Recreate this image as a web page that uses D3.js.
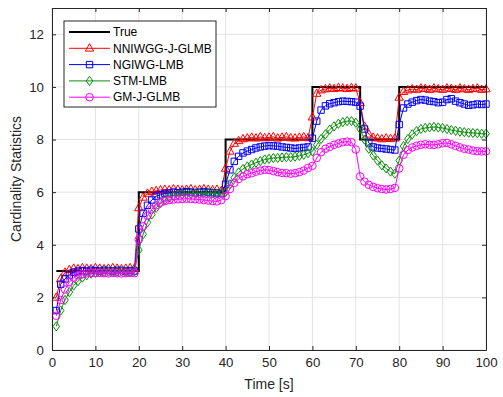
<!DOCTYPE html>
<html>
<head>
<meta charset="utf-8">
<script src="https://cdn.jsdelivr.net/npm/d3@7"></script>
<style>
  body { margin: 0; background: #fff; }
  svg { display: block; font-family: Arial, "Liberation Sans", Helvetica, sans-serif; }
</style>
</head>
<body>
<svg id="chart" width="503" height="397"></svg>
<script>
// Time index (s) of each filter step
const timeSteps = d3.range(1, 101);

// Ground-truth number of targets
const trueCount = [
  3,3,3,3,3,3,3,3,3,3,3,3,3,3,3,3,3,3,3,
  6,6,6,6,6,6,6,6,6,6,6,6,6,6,6,6,6,6,6,6,
  8,8,8,8,8,8,8,8,8,8,8,8,8,8,8,8,8,8,8,8,
  10,10,10,10,10,10,10,10,10,10,10,
  8,8,8,8,8,8,8,8,8,
  10,10,10,10,10,10,10,10,10,10,10,10,10,10,10,10,10,10,10,10,10
];

// Estimated cardinality, NNIWGG-J-GLMB
const nniwggJGlmb = [
  2.0,2.7,2.95,3.05,3.1,3.08,3.12,3.1,3.08,3.12,3.1,3.08,3.1,3.12,3.1,3.08,3.1,3.12,3.1,
  5.4,5.8,5.95,6.02,6.05,6.08,6.1,6.08,6.12,6.1,6.08,6.1,6.12,6.08,6.1,6.12,6.1,6.08,6.1,6.05,
  6.9,7.55,7.85,7.95,8.02,8.05,8.08,8.05,8.1,8.06,8.08,8.1,8.05,8.08,8.1,8.06,8.05,8.08,8.1,8.06,
  8.85,9.75,9.88,9.92,9.95,9.93,9.97,9.95,9.93,9.97,9.95,
  9.4,8.5,8.2,8.08,8.05,8.02,8.05,8.03,8.05,
  9.6,9.82,9.88,9.92,9.9,9.95,9.93,9.9,9.95,9.92,9.9,9.95,9.93,9.9,9.95,9.92,9.9,9.93,9.95,9.9,9.92
];

// Estimated cardinality, NGIWG-LMB
const ngiwgLmb = [
  1.5,2.5,2.7,2.85,2.95,3.0,3.02,3.0,3.03,3.02,3.0,3.03,3.02,3.0,3.03,3.02,3.0,3.02,3.0,
  4.6,5.2,5.5,5.7,5.85,5.9,5.95,5.97,6.0,5.98,6.0,6.02,6.0,5.98,6.0,6.02,6.0,5.98,5.97,5.95,
  6.3,6.85,7.17,7.36,7.49,7.56,7.62,7.68,7.72,7.75,7.77,7.76,7.75,7.72,7.7,7.68,7.66,7.68,7.7,7.72,
  8.05,8.7,9.12,9.28,9.36,9.4,9.44,9.46,9.45,9.44,9.42,
  9.27,8.4,7.87,7.72,7.68,7.66,7.64,7.62,7.6,
  8.57,9.2,9.35,9.42,9.48,9.52,9.5,9.46,9.44,9.4,9.42,9.52,9.55,9.46,9.4,9.35,9.3,9.32,9.35,9.33,9.35
];

// Estimated cardinality, STM-LMB
const stmLmb = [
  0.9,1.5,1.9,2.2,2.45,2.62,2.75,2.84,2.9,2.94,2.96,2.97,2.98,2.97,2.98,2.99,2.98,2.97,2.98,
  3.8,4.4,4.85,5.15,5.4,5.58,5.7,5.8,5.86,5.9,5.92,5.94,5.95,5.96,5.95,5.96,5.97,5.96,5.95,5.94,
  6.0,6.3,6.55,6.75,6.88,6.98,7.05,7.12,7.18,7.24,7.27,7.3,7.3,7.32,7.33,7.33,7.35,7.38,7.42,7.48,
  7.55,7.8,8.02,8.2,8.38,8.5,8.6,8.66,8.7,8.7,8.64,
  8.4,8.0,7.65,7.4,7.2,7.02,6.9,6.78,6.7,
  7.2,7.75,8.02,8.2,8.32,8.4,8.44,8.46,8.48,8.46,8.44,8.4,8.36,8.33,8.3,8.28,8.26,8.25,8.24,8.22,8.22
];

// Estimated cardinality, GM-J-GLMB
const gmJGlmb = [
  1.3,1.9,2.3,2.58,2.75,2.84,2.88,2.92,2.93,2.92,2.93,2.92,2.91,2.93,2.92,2.91,2.92,2.93,2.92,
  4.2,4.7,5.1,5.35,5.5,5.6,5.66,5.7,5.72,5.73,5.74,5.75,5.74,5.73,5.72,5.7,5.68,5.66,5.65,5.7,
  5.85,6.12,6.35,6.5,6.6,6.68,6.72,6.78,6.82,6.85,6.84,6.8,6.76,6.73,6.72,6.7,6.72,6.76,6.82,6.92,
  7.0,7.3,7.52,7.65,7.72,7.8,7.85,7.9,7.92,7.9,7.62,
  6.6,6.4,6.28,6.2,6.15,6.12,6.1,6.12,6.16,
  6.9,7.42,7.6,7.7,7.76,7.8,7.82,7.8,7.8,7.82,7.86,7.87,7.82,7.76,7.7,7.65,7.62,7.58,7.56,7.55,7.55
];

const xTicks = [0, 10, 20, 30, 40, 50, 60, 70, 80, 90, 100];
const yTicks = [0, 2, 4, 6, 8, 10, 12];

const W = 503, H = 397;
const margin = { top: 8, right: 17, bottom: 47, left: 52 };
const svg = d3.select("#chart");

const x = d3.scaleLinear().domain([0, 100]).range([margin.left, W - margin.right]);
const y = d3.scaleLinear().domain([0, 13]).range([H - margin.bottom, margin.top]);

const axisColor = "#262626";

// grid
const grid = svg.append("g");
grid.selectAll("line.gx").data(xTicks).join("line")
  .attr("x1", d => x(d)).attr("x2", d => x(d))
  .attr("y1", y(0)).attr("y2", y(13))
  .attr("stroke", "#e3e3e3").attr("stroke-width", 1);
grid.selectAll("line.gy").data(yTicks).join("line")
  .attr("x1", x(0)).attr("x2", x(100))
  .attr("y1", d => y(d)).attr("y2", d => y(d))
  .attr("stroke", "#e3e3e3").attr("stroke-width", 1);

// series
const series = [
  { name: "NNIWGG-J-GLMB", values: nniwggJGlmb, color: "#ff0000", marker: "triangle" },
  { name: "NGIWG-LMB", values: ngiwgLmb, color: "#0000ff", marker: "square" },
  { name: "STM-LMB", values: stmLmb, color: "#0a8f0a", marker: "diamond" },
  { name: "GM-J-GLMB", values: gmJGlmb, color: "#ff00ff", marker: "circle" }
];

const markerPath = {
  triangle: "M0,-4.6L4.2,2.8L-4.2,2.8Z",
  square: "M-3.2,-3.2H3.2V3.2H-3.2Z",
  diamond: "M0,-4.6L3.3,0L0,4.6L-3.3,0Z"
};
(function () {
  const p = d3.path();
  p.arc(0, 0, 3.8, 0, 2 * Math.PI);
  markerPath.circle = p.toString();
})();

const plot = svg.append("g");

// truth as a step line
const trueLine = d3.line()
  .x((d, i) => x(timeSteps[i]))
  .y(d => y(d))
  .curve(d3.curveStepAfter);
plot.append("path")
  .datum(trueCount)
  .attr("d", trueLine)
  .attr("fill", "none")
  .attr("stroke", "#000")
  .attr("stroke-width", 2);

const line = d3.line()
  .x((d, i) => x(timeSteps[i]))
  .y(d => y(d));

series.forEach(s => {
  const g = plot.append("g");
  g.append("path")
    .datum(s.values)
    .attr("d", line)
    .attr("fill", "none")
    .attr("stroke", s.color)
    .attr("stroke-width", 1);
  g.selectAll("path.m").data(s.values).join("path")
    .attr("class", "m")
    .attr("transform", (d, i) => `translate(${x(timeSteps[i])},${y(d)})`)
    .attr("d", markerPath[s.marker])
    .attr("fill", "none")
    .attr("stroke", s.color)
    .attr("stroke-width", 1);
});

// axes box with inward ticks
const xAxisB = d3.axisBottom(x).tickValues(xTicks).tickSizeInner(-4).tickSizeOuter(0).tickPadding(8);
const yAxisL = d3.axisLeft(y).tickValues(yTicks).tickSizeInner(-4).tickSizeOuter(0).tickPadding(8);
const xAxisT = d3.axisTop(x).tickValues(xTicks).tickSizeInner(-4).tickSizeOuter(0).tickFormat("");
const yAxisR = d3.axisRight(y).tickValues(yTicks).tickSizeInner(-4).tickSizeOuter(0).tickFormat("");

function styleAxis(g) {
  g.select(".domain").attr("stroke", axisColor);
  g.selectAll(".tick line").attr("stroke", axisColor);
  g.selectAll(".tick text").attr("fill", axisColor).style("font-size", "13.3px").style("font-family", "Arial, 'Liberation Sans', sans-serif");
}

svg.append("g").attr("transform", `translate(0,${y(0)})`).call(xAxisB).call(styleAxis);
svg.append("g").attr("transform", `translate(${x(0)},0)`).call(yAxisL).call(styleAxis);
svg.append("g").attr("transform", `translate(0,${y(13)})`).call(xAxisT).call(styleAxis);
svg.append("g").attr("transform", `translate(${x(100)},0)`).call(yAxisR).call(styleAxis);

// axis titles
svg.append("text")
  .attr("x", (x(0) + x(100)) / 2)
  .attr("y", 389)
  .attr("text-anchor", "middle")
  .attr("fill", axisColor)
  .style("font-size", "14px")
  .text("Time [s]");
svg.append("text")
  .attr("transform", `translate(21,${(y(0) + y(13)) / 2}) rotate(-90)`)
  .attr("text-anchor", "middle")
  .attr("fill", axisColor)
  .style("font-size", "14px")
  .text("Cardinality Statistics");

// legend
const legend = svg.append("g");
const lx = 64, ly = 21, lw = 152, lh = 86;
legend.append("rect")
  .attr("x", lx).attr("y", ly).attr("width", lw).attr("height", lh)
  .attr("fill", "#fff").attr("stroke", axisColor).attr("stroke-width", 1);

const legendItems = [{ name: "True", color: "#000", marker: null, width: 2 }]
  .concat(series.map(s => ({ name: s.name, color: s.color, marker: s.marker, width: 1 })));

legendItems.forEach((it, i) => {
  const cy = ly + 11 + i * 16.3;
  legend.append("line")
    .attr("x1", lx + 5).attr("x2", lx + 46)
    .attr("y1", cy).attr("y2", cy)
    .attr("stroke", it.color).attr("stroke-width", it.width);
  if (it.marker) {
    legend.append("path")
      .attr("transform", `translate(${lx + 25.5},${cy})`)
      .attr("d", markerPath[it.marker])
      .attr("fill", "none").attr("stroke", it.color).attr("stroke-width", 1);
  }
  legend.append("text")
    .attr("x", lx + 49).attr("y", cy)
    .attr("dy", "0.35em")
    .attr("fill", "#000")
    .style("font-size", "12px")
    .text(it.name);
});
</script>
</body>
</html>
